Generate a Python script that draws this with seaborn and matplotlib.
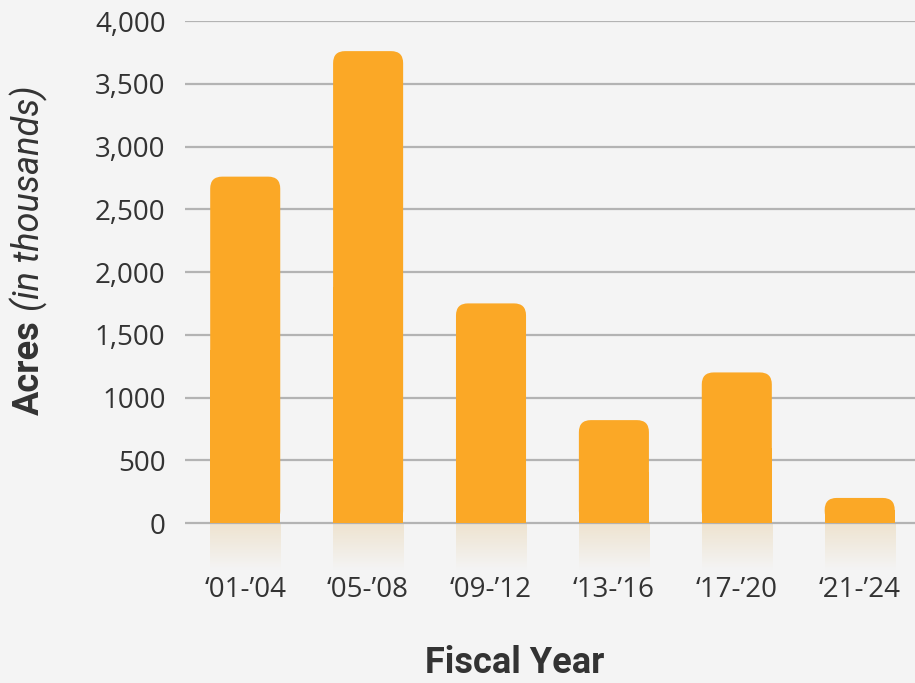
import numpy as np
import pandas as pd
import matplotlib
matplotlib.use("Agg")
import matplotlib.pyplot as plt
import seaborn as sns
from matplotlib.patches import FancyBboxPatch, Rectangle

# ===================== 数据 =====================
periods = ["\u201801-\u201904", "\u201805-\u201908", "\u201809-\u201912",
           "\u201813-\u201916", "\u201817-\u201920", "\u201821-\u201924"]
acres = [2760, 3760, 1750, 820, 1200, 200]
y_ticks = [0, 500, 1000, 1500, 2000, 2500, 3000, 3500, 4000]
y_tick_labels = ["0", "500", "1000", "1,500", "2,000", "2,500", "3,000", "3,500", "4,000"]

BG = "#f4f4f4"
BAR = "#fba826"
TXT = "#333333"

sns.set_style("white", {"axes.facecolor": BG, "figure.facecolor": BG})
plt.rcParams["font.family"] = ["Open Sans", "DejaVu Sans"]

W, H = 915, 683
fig = plt.figure(figsize=(W / 100, H / 100), dpi=100)
# 轴区域：y=0 在 523px，y=4000 在 21px，底部留出倒影区域
y_bot = -414
ax = fig.add_axes([185 / W, 1 - 575 / H, 1 - 185 / W, (575 - 21) / H])

df = pd.DataFrame({"period": periods, "acres": acres})
sns.barplot(data=df, x="period", y="acres", color=BAR, width=0.57,
            saturation=1, ax=ax, zorder=3)

# 圆角柱子（替换 seaborn 的矩形）
px_x = (W - 185) / (5.45 + 0.49)
px_y = (575 - 21) / (4000 - y_bot)
aspect = px_x / px_y
r = 12 / px_x
grad = np.linspace(0, 1, 64)[:, None]
top_c = np.array([238, 227, 207]) / 255
bg_c = np.array([244, 244, 244]) / 255
img = (top_c[None, None, :] * (1 - grad[..., None]) + bg_c[None, None, :] * grad[..., None])
for p in list(ax.patches):
    x0, w, h = p.get_x(), p.get_width(), p.get_height()
    p.set_visible(False)
    ax.add_patch(FancyBboxPatch((x0, 0), w, h,
                                boxstyle=f"round,pad=0,rounding_size={r}",
                                mutation_aspect=aspect, fc=BAR, ec="none", zorder=3))
    ax.add_patch(Rectangle((x0, 0), w, h / 2, fc=BAR, ec="none", zorder=3))
    # 倒影渐变
    ax.imshow(img, extent=[x0, x0 + w, -375, 0], aspect="auto", zorder=1,
              interpolation="bilinear")

ax.set_xlim(-0.49, 5.45)
ax.set_ylim(y_bot, 4000)

ax.set_yticks(y_ticks)
ax.set_yticklabels(y_tick_labels)
for y in y_ticks:
    ax.axhline(y, color="#b3b3b3", lw=1.6, zorder=2)
ax.tick_params(axis="y", length=0, pad=14, labelsize=20, labelcolor=TXT)
ax.tick_params(axis="x", length=0, pad=1, labelsize=20, labelcolor=TXT)
ax.set_xlabel("")
ax.set_ylabel("")
for s in ax.spines.values():
    s.set_visible(False)

# 轴标题
fig.text(515 / W, 10 / H, "Fiscal Year", ha="center", va="baseline",
         fontsize=26, fontweight="bold", color=TXT, family=["Roboto", "DejaVu Sans"])
t1 = fig.text(29 / W, 1 - 415 / H, "Acres", rotation=90, ha="center", va="bottom",
              fontsize=26, fontweight="bold", color=TXT, family=["Roboto", "DejaVu Sans"])
fig.canvas.draw()
bb = t1.get_window_extent()
fig.text(29 / W, (bb.y1 + 9) / H, "(in thousands)", rotation=90, ha="center",
         va="bottom", fontsize=26, fontstyle="italic", color=TXT,
         family=["Roboto", "DejaVu Sans"])

fig.savefig("out.png", dpi=100, facecolor=BG)
